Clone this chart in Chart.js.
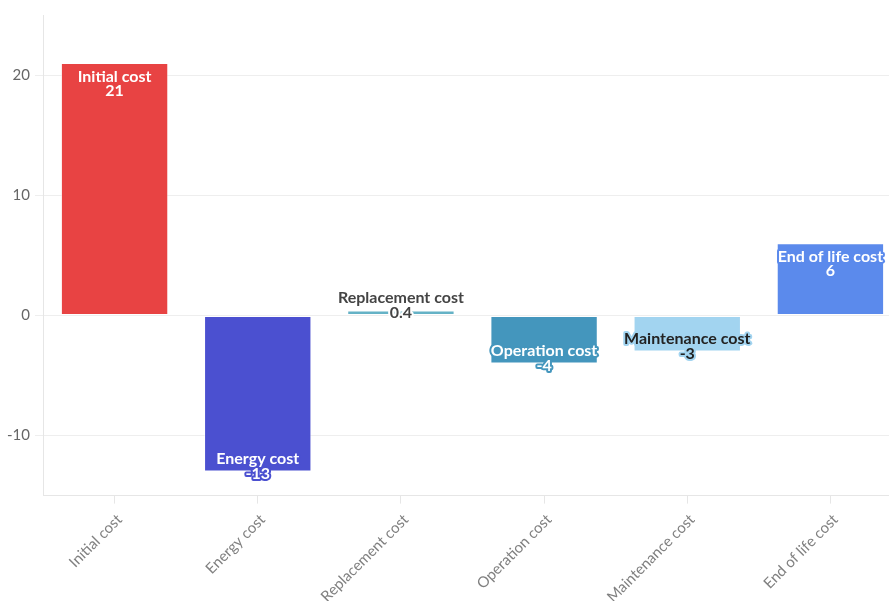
<!DOCTYPE html>
<html>
    <head>
        <script src="https://cdn.jsdelivr.net/npm/chart.js"></script>
        <style>
            body {
                margin: 0;
                overflow: hidden;
                background: #fff;
            }
            #wrap {
                width: 902px;
                height: 601px;
            }
        </style>
    </head>
    <body>
        <div id="wrap">
            <canvas id="costChart"></canvas>
        </div>

        <script>
            const categories = ['Initial cost', 'Energy cost', 'Replacement cost', 'Operation cost', 'Maintenance cost', 'End of life cost'];
            const costValues = [21, -13, 0.4, -4, -3, 6];
            const yTicks = [-10, 0, 10, 20];

            const barColors = ['#e84343', '#4b50d0', '#65b2c6', '#4496bd', '#a2d4f0', '#5b8aec'];
            const textColors = ['#fff', '#fff', '#444', '#fff', '#222', '#fff'];
            const haloColors = ['#e84343', '#4b50d0', '#fff', '#4496bd', '#a2d4f0', '#5b8aec'];

            const FONT = 'Lato, "Source Sans Pro", "Open Sans", sans-serif';

            // two-line labels (name + value) drawn at the end of each bar
            const barLabels = {
                id: 'barLabels',
                afterDatasetsDraw(chart) {
                    const ctx = chart.ctx;
                    const meta = chart.getDatasetMeta(0);
                    ctx.save();
                    ctx.font = 'bold 16px ' + FONT;
                    ctx.textAlign = 'center';
                    ctx.textBaseline = 'middle';
                    ctx.lineJoin = 'round';
                    ctx.lineWidth = 4;
                    meta.data.forEach((bar, i) => {
                        const v = costValues[i];
                        const h = Math.abs(bar.base - bar.y);
                        let y1, y2;
                        if (v > 0 && h > 40) {
                            y1 = bar.y + 14;
                            y2 = bar.y + 28;
                        } else {
                            y1 = bar.y - 12.5;
                            y2 = bar.y + 2;
                        }
                        const lines = [[categories[i], y1], [String(v), y2]];
                        lines.forEach(([txt, y]) => {
                            ctx.strokeStyle = haloColors[i];
                            ctx.strokeText(txt, bar.x, y);
                        });
                        lines.forEach(([txt, y]) => {
                            ctx.fillStyle = textColors[i];
                            ctx.fillText(txt, bar.x, y);
                        });
                    });
                    ctx.restore();
                }
            };

            const ctx = document.getElementById('costChart').getContext('2d');
            const costChart = new Chart(ctx, {
                type: 'bar',
                data: {
                    labels: categories,
                    datasets: [{
                        data: costValues,
                        backgroundColor: barColors,
                        borderColor: 'rgba(255,255,255,0.45)',
                        borderWidth: 1,
                        borderSkipped: false,
                        categoryPercentage: 1,
                        barPercentage: 0.75
                    }]
                },
                plugins: [barLabels],
                options: {
                    responsive: true,
                    maintainAspectRatio: false,
                    animation: false,
                    layout: {
                        padding: { top: 15, left: 0, right: 0, bottom: 0 }
                    },
                    plugins: {
                        legend: { display: false },
                        tooltip: { enabled: false }
                    },
                    scales: {
                        x: {
                            grid: {
                                offset: false,
                                drawOnChartArea: false,
                                drawTicks: true,
                                tickLength: 8,
                                color: '#e6e6e6'
                            },
                            border: { display: true, color: '#e6e6e6' },
                            ticks: {
                                minRotation: 45,
                                maxRotation: 45,
                                color: '#808080',
                                font: { family: FONT, size: 15 },
                                padding: 7,
                                labelOffset: 5
                            },
                            afterFit(scale) {
                                scale.height = 105.4;
                            }
                        },
                        y: {
                            min: -15,
                            max: 25,
                            afterBuildTicks(scale) {
                                scale.ticks = yTicks.map(v => ({ value: v }));
                            },
                            grid: {
                                color: '#eeeeee',
                                tickLength: 8
                            },
                            border: { display: true, color: '#e6e6e6' },
                            ticks: {
                                color: '#666',
                                font: { family: FONT, size: 15 },
                                padding: 5
                            },
                            afterFit(scale) {
                                scale.width = 43;
                            }
                        }
                    }
                }
            });
        </script>
    </body>
</html>
